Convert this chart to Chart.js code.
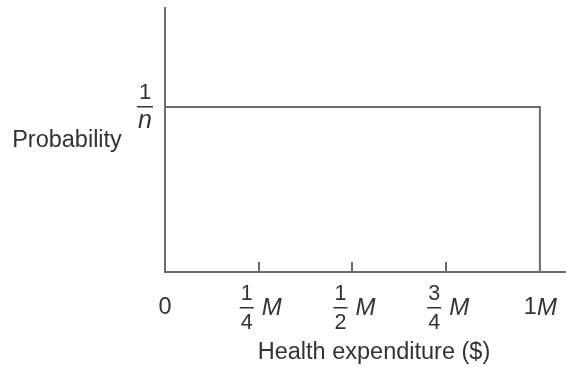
<!DOCTYPE html>
<html>
<head>
<meta charset="utf-8">
<script src="https://cdn.jsdelivr.net/npm/chart.js@4"></script>
<style>
  body { margin: 0; background: #fff; }
  #wrap { width: 574px; height: 371px; }
</style>
</head>
<body>
<div id="wrap"><canvas id="chart"></canvas></div>
<script>
// uniform distribution of health expenditure, 0 .. 1M
var expenditure = [0, 1, 1];        // in units of M
var probability = [1, 1, 0];        // in units of 1/n

// x tick labels: lead text, fraction, italic unit
var xTickValues = [0, 0.25, 0.5, 0.75, 1];
var xTickLead = ['0', '', '', '', '1'];
var xTickNum = [null, '1', '1', '3', null];
var xTickDen = [null, '4', '2', '4', null];
var xTickUnit = ['', 'M', 'M', 'M', 'M'];
var xTickMarks = [0.25, 0.5, 0.75];

var yTickValue = 1;
var yTickNum = '1';
var yTickDen = 'n';

var lineColor = '#6b6b6b';
var textColor = '#333333';
var fontFamily = '"Liberation Sans", Arial, sans-serif';

var labelsPlugin = {
    id: 'labels',
    afterDraw: function (chart) {
        var ctx = chart.ctx;
        var xs = chart.scales.x;
        var ys = chart.scales.y;
        var base = ys.getPixelForValue(0);
        ctx.save();

        // inward tick marks
        ctx.strokeStyle = lineColor;
        ctx.lineWidth = 2;
        xTickMarks.forEach(function (v) {
            var px = Math.round(xs.getPixelForValue(v));
            ctx.beginPath();
            ctx.moveTo(px, base);
            ctx.lineTo(px, base - 10);
            ctx.stroke();
        });

        ctx.fillStyle = textColor;
        ctx.textBaseline = 'middle';

        // x tick labels
        var mid = base + 36;
        xTickValues.forEach(function (v, i) {
            var px = xs.getPixelForValue(v);
            if (xTickNum[i]) {
                var fx = px - 12;
                ctx.font = '21.5px ' + fontFamily;
                ctx.textAlign = 'center';
                ctx.fillText(xTickNum[i], fx, mid - 14);
                ctx.fillText(xTickDen[i], fx, mid + 15);
                ctx.fillRect(fx - 7, mid - 1, 14, 1.5);
                ctx.font = 'italic 24px ' + fontFamily;
                ctx.textAlign = 'left';
                ctx.fillText(xTickUnit[i], px + 3, mid);
            } else if (xTickUnit[i]) {
                ctx.font = '23.5px ' + fontFamily;
                ctx.textAlign = 'right';
                ctx.fillText(xTickLead[i], px - 3, mid);
                ctx.font = 'italic 24px ' + fontFamily;
                ctx.textAlign = 'left';
                ctx.fillText(xTickUnit[i], px - 3, mid);
            } else {
                ctx.font = '23.5px ' + fontFamily;
                ctx.textAlign = 'center';
                ctx.fillText(xTickLead[i], px, mid);
            }
        });

        // y tick label 1/n
        var py = ys.getPixelForValue(yTickValue);
        var lx = xs.left - 20;
        ctx.textAlign = 'center';
        ctx.font = '22px ' + fontFamily;
        ctx.fillText(yTickNum, lx, py - 14);
        ctx.font = 'italic 25px ' + fontFamily;
        ctx.fillText(yTickDen, lx, py + 14);
        ctx.fillRect(lx - 8, py - 1, 16, 1.5);

        // axis titles
        ctx.font = '23.5px ' + fontFamily;
        ctx.fillText('Probability', 67, py + 34);
        ctx.fillText('Health expenditure ($)', 374, base + 81);

        ctx.restore();
    }
};

new Chart(
    document.getElementById('chart'),
    {
        type: 'line',
        data: {
            datasets: [
                {
                    data: expenditure.map((x, i) => ({ x: x, y: probability[i] })),
                    borderColor: lineColor,
                    borderWidth: 2,
                    pointRadius: 0,
                    tension: 0,
                    fill: false
                }
            ]
        },
        options: {
            responsive: true,
            maintainAspectRatio: false,
            animation: false,
            layout: {
                padding: { left: 157, top: 8, right: 9, bottom: 91 }
            },
            plugins: {
                legend: { display: false },
                tooltip: { enabled: false }
            },
            scales: {
                x: {
                    type: 'linear',
                    min: 0,
                    max: 1.067,
                    ticks: { display: false },
                    grid: { display: false },
                    border: { display: true, color: lineColor, width: 2 }
                },
                y: {
                    type: 'linear',
                    min: 0,
                    max: 1.6,
                    ticks: { display: false },
                    grid: { display: false },
                    border: { display: true, color: lineColor, width: 2 }
                }
            }
        },
        plugins: [labelsPlugin]
    }
);
</script>
</body>
</html>
